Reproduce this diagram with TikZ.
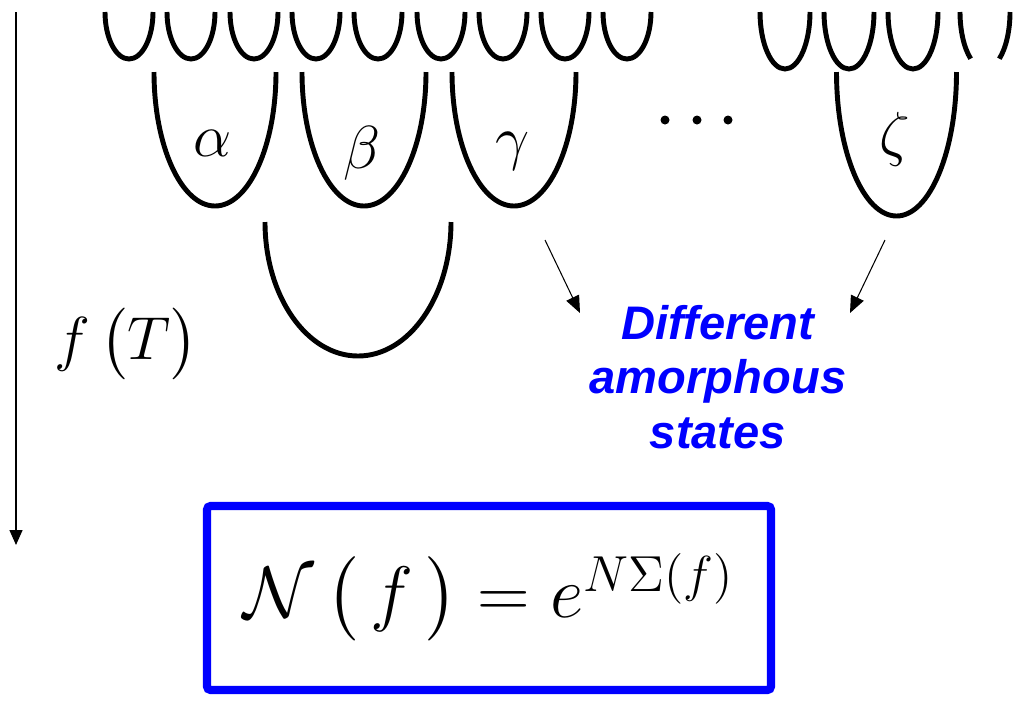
\documentclass[tikz,border=0pt]{standalone}
\usepackage{amsmath}
\usepackage{amssymb}
\usepackage{fontspec}
\setsansfont{Liberation Sans}
\usetikzlibrary{arrows.meta}

\begin{document}
\begin{tikzpicture}[
  well/.style={line width=1.4pt},
  fall/.style={line width=0.4pt, -{Triangle[length=0.15cm,width=0.13cm]}},
  pointer/.style={line width=0.3pt, -{Triangle[length=0.17cm,width=0.14cm]}},
  greek/.style={font=\fontsize{16}{18}\selectfont},
  states/.style={text=blue, align=center, font=\sffamily\bfseries\itshape\fontsize{13.4}{15.6}\selectfont},
  eqbox/.style={draw=blue, line width=2.3pt, rounded corners=1pt, inner sep=0pt,
    minimum width=5.64cm, minimum height=1.84cm, font=\fontsize{20}{22}\selectfont}]
\useasboundingbox (0,0) rectangle (10.22,7);

%%%%%%%%%%%%%%%%%%%
% The small valleys on top

\draw [well] (1.05,6.88) arc (180:360:0.24 and 0.47);
\draw [well] (1.67,6.88) arc (180:360:0.24 and 0.47);
\draw [well] (2.30,6.88) arc (180:360:0.24 and 0.47);
\draw [well] (2.92,6.88) arc (180:360:0.24 and 0.47);
\draw [well] (3.54,6.88) arc (180:360:0.24 and 0.47);
\draw [well] (4.17,6.88) arc (180:360:0.24 and 0.47);
\draw [well] (4.79,6.88) arc (180:360:0.24 and 0.47);
\draw [well] (5.41,6.88) arc (180:360:0.24 and 0.47);
\draw [well] (6.03,6.88) arc (180:360:0.24 and 0.47);

\draw [well] (7.60,6.88) arc (180:360:0.25 and 0.57);
\draw [well] (8.24,6.88) arc (180:360:0.25 and 0.57);
\draw [well] (8.88,6.88) arc (180:360:0.25 and 0.57);
\draw [well] (9.60,6.88) arc (180:235:0.25 and 0.57);
\draw [well] (10.10,6.88) arc (360:305:0.25 and 0.57);

%%%%%%%%%%%%%%%%%%%
% The big valleys

\draw [well] (1.54,6.28) arc (180:360:0.61 and 1.34);
\draw [well] (3.02,6.28) arc (180:360:0.62 and 1.34);
\draw [well] (4.52,6.28) arc (180:360:0.62 and 1.34);
\draw [well] (8.365,6.28) arc (180:360:0.60 and 1.44);

\draw [well] (2.65,4.78) arc (180:360:0.93 and 1.34);

\fill (6.65,5.80) circle (0.045);
\fill (6.97,5.80) circle (0.045);
\fill (7.28,5.80) circle (0.045);

%%%%%%%%%%%%%%%%%%%%
% Labels

\node [greek] (alpha) at (2.13,5.57) {$\alpha$};
\node [greek] (beta) at (3.62,5.47) {$\beta$};
\node [greek] (gamma) at (5.13,5.49) {$\gamma$};
\node [greek] (zeta) at (8.95,5.61) {$\zeta$};

\coordinate (ftop) at (0.16,6.88);
\coordinate (fbot) at (0.16,1.55);
\draw [fall] (ftop) -- (fbot);
\node [font=\fontsize{17}{19}\selectfont] (fT) at (1.26,3.56) {$f\,\bigl(T\bigr)$};

\node [states] (amorph) at (7.18,3.23) {Different\\amorphous\\states};

\coordinate (gfrom) at (5.45,4.60);
\coordinate (gto) at (5.80,3.87);
\coordinate (zfrom) at (8.85,4.60);
\coordinate (zto) at (8.50,3.87);
\draw [pointer] (gfrom) -- (gto);
\draw [pointer] (zfrom) -- (zto);

%%%%%%%%%%%%%%%%%%%%%%%%%%%%
% Number of states

\node [eqbox] (count) at (4.89,1.02) {\raisebox{-2pt}{$\mathcal{N}\,\bigl(\,f\,\bigr) = e^{N\Sigma(f)}$}};

\end{tikzpicture}
\end{document}
